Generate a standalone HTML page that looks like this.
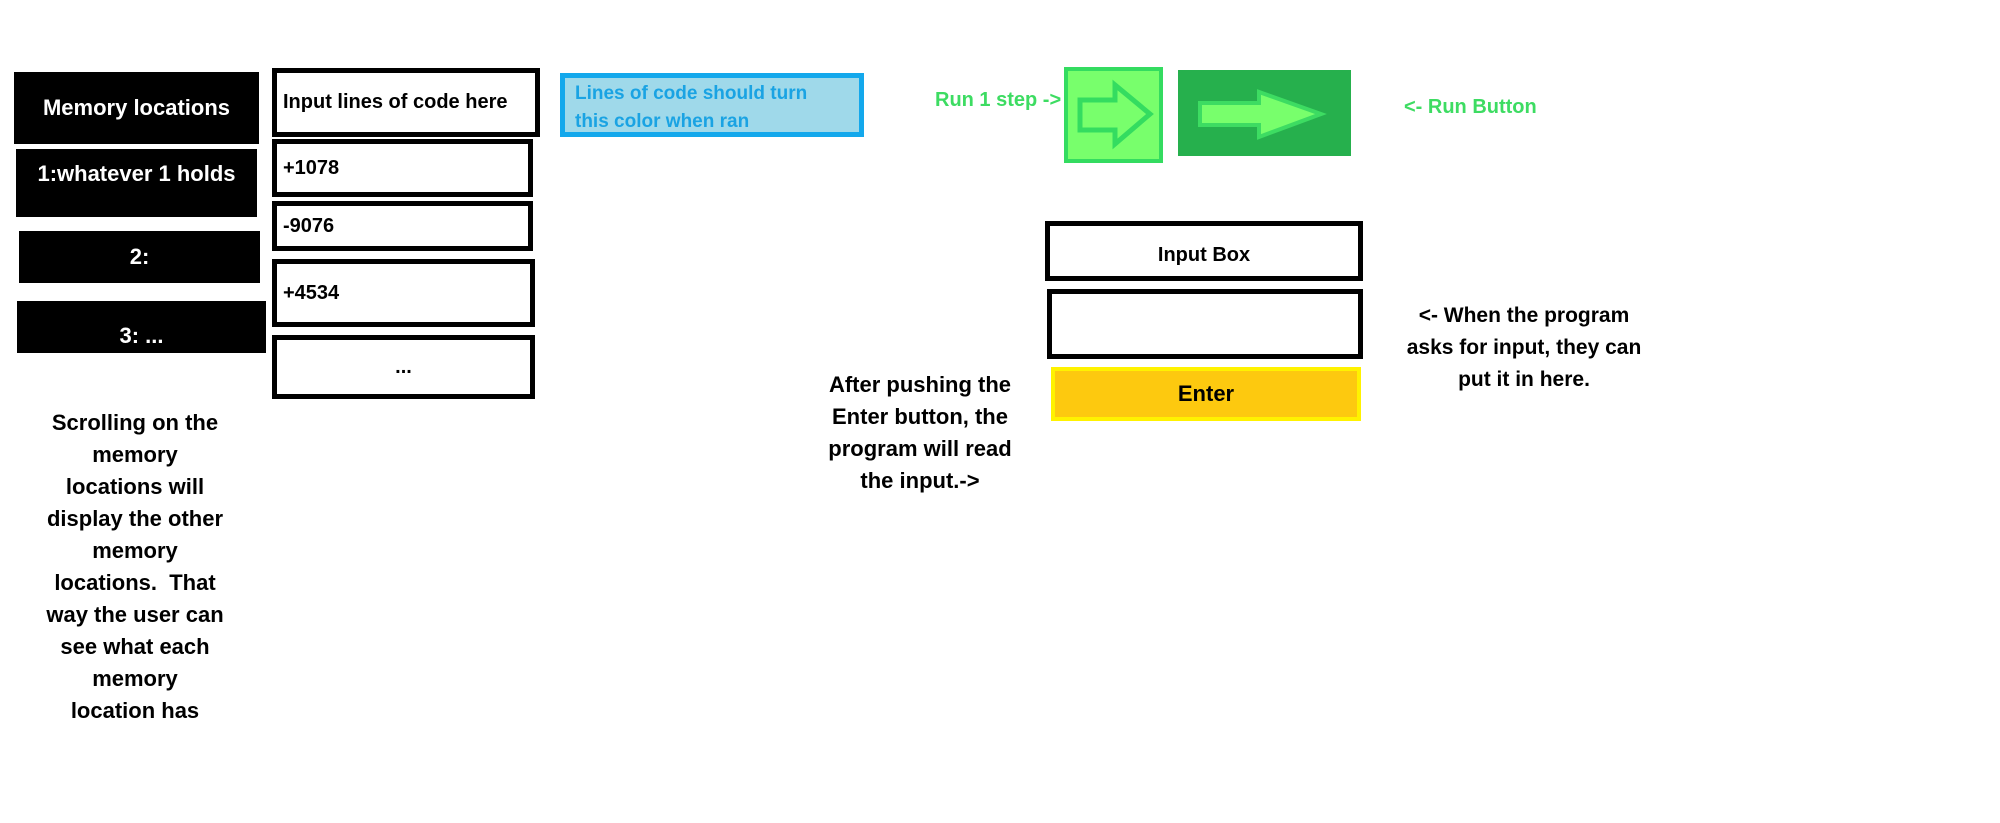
<!DOCTYPE html>
<html><head><style>
body{margin:0;width:2000px;height:823px;background:#fff;position:relative;overflow:hidden;font-family:"Liberation Sans",sans-serif;font-weight:bold;}
.a{position:absolute;box-sizing:border-box;}
.blk{background:#000;color:#fff;font-size:22px;display:flex;align-items:center;justify-content:center;}
.wb{border:5px solid #000;background:#fff;font-size:20px;display:flex;align-items:center;padding-left:6px;}
.t{position:absolute;text-align:center;font-size:22px;line-height:32px;}
</style></head><body>
<div class="a blk" style="left:14px;top:72px;width:245px;height:72px;">Memory locations</div>
<div class="a blk" style="left:16px;top:149px;width:241px;height:68px;align-items:flex-start;padding-top:12px;">1:whatever 1 holds</div>
<div class="a blk" style="left:19px;top:231px;width:241px;height:52px;">2:</div>
<div class="a blk" style="left:17px;top:301px;width:249px;height:52px;align-items:flex-end;padding-bottom:4px;">3: ...</div>

<div class="a wb" style="left:272px;top:68px;width:268px;height:69px;">Input lines of code here</div>
<div class="a wb" style="left:272px;top:139px;width:261px;height:58px;">+1078</div>
<div class="a wb" style="left:272px;top:201px;width:261px;height:50px;">-9076</div>
<div class="a wb" style="left:272px;top:259px;width:263px;height:68px;">+4534</div>
<div class="a wb" style="left:272px;top:335px;width:263px;height:64px;justify-content:center;padding:0;">...</div>

<div class="a" style="left:560px;top:73px;width:304px;height:64px;background:#9fd9ea;border:5px solid #13a8ec;color:#1aa3e3;font-size:19px;line-height:28px;padding:2px 0 0 10px;">Lines of code should turn<br>this color when ran</div>

<div class="t" style="left:935px;top:84px;width:150px;font-size:20px;color:#3ddc62;text-align:left;">Run 1 step -&gt;</div>
<div class="a" style="left:1064px;top:67px;width:99px;height:96px;background:#78ff6c;border:4px solid #34dc60;"></div>
<svg class="a" style="left:1064px;top:67px" width="99" height="96"><polygon points="16,33 51,33 51,18 86,47 51,77 51,63 16,63" fill="#78ff6c" stroke="#34dc60" stroke-width="5"/></svg>
<div class="a" style="left:1178px;top:70px;width:173px;height:86px;background:#26b04d;"></div>
<svg class="a" style="left:1178px;top:70px" width="173" height="86"><polygon points="22,33 81,33 81,22 143,44 81,67 81,55 22,55" fill="#78ff6c" stroke="#3ddc62" stroke-width="4"/></svg>
<div class="t" style="left:1404px;top:91px;width:200px;font-size:20px;color:#3ddc62;text-align:left;">&lt;- Run Button</div>

<div class="a wb" style="left:1045px;top:221px;width:318px;height:60px;justify-content:center;padding:8px 0 0 0;">Input Box</div>
<div class="a wb" style="left:1047px;top:289px;width:316px;height:70px;"></div>
<div class="a" style="left:1051px;top:367px;width:310px;height:54px;background:#fdc90f;border:4px solid #fff200;font-size:22px;display:flex;align-items:center;justify-content:center;">Enter</div>

<div class="t" style="left:1364px;top:300px;width:320px;font-size:21px;">&lt;- When the program<br>asks for input, they can<br>put it in here.</div>
<div class="t" style="left:810px;top:369px;width:220px;">After pushing the<br>Enter button, the<br>program will read<br>the input.-&gt;</div>
<div class="t" style="left:25px;top:407px;width:220px;">Scrolling on the<br>memory<br>locations will<br>display the other<br>memory<br>locations.&nbsp; That<br>way the user can<br>see what each<br>memory<br>location has</div>
</body></html>
